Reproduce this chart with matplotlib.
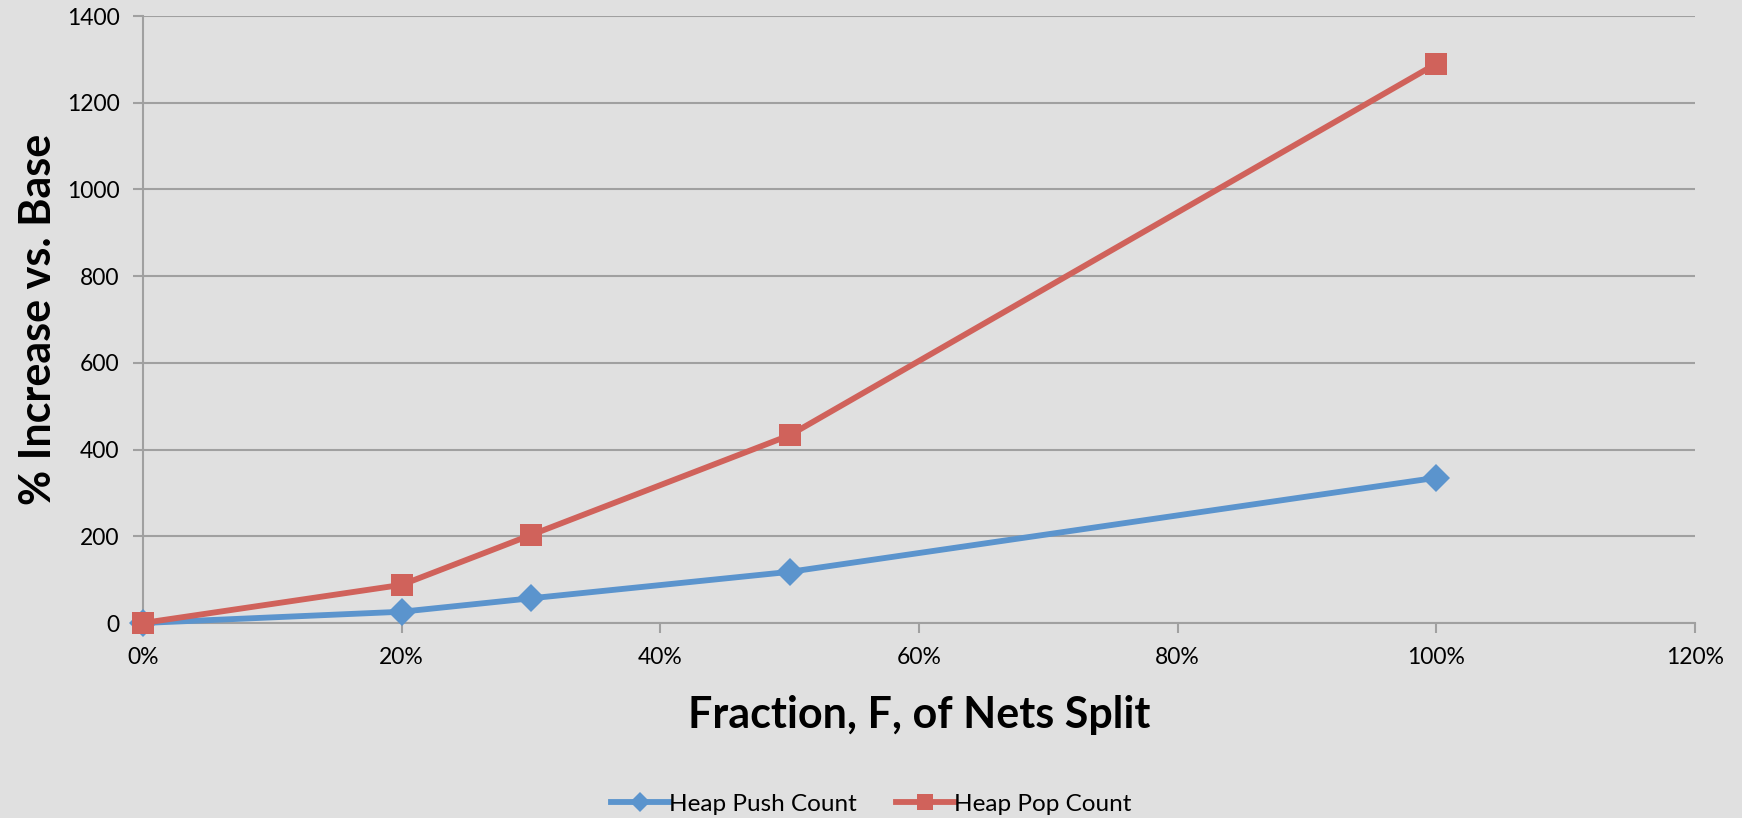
import matplotlib
matplotlib.use("Agg")
import matplotlib.pyplot as plt
from matplotlib.ticker import FuncFormatter, MultipleLocator

# Fraction of nets split and the resulting % increase over the base run
fraction_split = [0.0, 0.2, 0.3, 0.5, 1.0]
heap_push_count = [0, 26, 57, 118, 335]
heap_pop_count = [0, 88, 203, 433, 1290]

series_names = ["Heap Push Count", "Heap Pop Count"]
x_label = "Fraction, F, of Nets Split"
y_label = "% Increase vs. Base"

bg = "#E0E0E0"
grid_c = "#A0A0A0"
blue = "#5B94CD"
red = "#D0625B"

plt.rcParams["font.family"] = ["Lato", "DejaVu Sans"]

fig = plt.figure(figsize=(17.42, 8.18), dpi=100, facecolor=bg)
ax = fig.add_axes([143 / 1742, 1 - 623 / 818, (1695 - 143) / 1742, (623 - 16) / 818])
ax.set_facecolor(bg)

ax.plot(fraction_split, heap_push_count, color=blue, lw=4.2, marker="D",
        markersize=14, markeredgewidth=0, label=series_names[0], zorder=3,
        clip_on=False)
ax.plot(fraction_split, heap_pop_count, color=red, lw=4.2, marker="s",
        markersize=16, markeredgewidth=0, label=series_names[1], zorder=4,
        clip_on=False)

ax.set_xlim(0, 1.2)
ax.set_ylim(0, 1400)
ax.xaxis.set_major_locator(MultipleLocator(0.2))
ax.yaxis.set_major_locator(MultipleLocator(200))
ax.xaxis.set_major_formatter(FuncFormatter(lambda v, p: f"{v * 100:.0f}%"))

ax.grid(axis="y", color=grid_c, lw=1.5)
ax.set_axisbelow(True)
for s in ["top", "right"]:
    ax.spines[s].set_visible(False)
for s in ["left", "bottom"]:
    ax.spines[s].set_color(grid_c)
    ax.spines[s].set_linewidth(1.5)
ax.tick_params(axis="both", colors=grid_c, width=1.5, length=7,
               labelcolor="black", labelsize=16.5)
ax.tick_params(axis="y", pad=10)
ax.tick_params(axis="x", pad=10)

ax.set_xlabel(x_label, fontsize=31, fontweight="bold", labelpad=20)
ax.set_ylabel(y_label, fontsize=31, fontweight="bold", labelpad=6)

leg = fig.legend(loc="center", bbox_to_anchor=(0.5, 1 - 804 / 818), ncol=2,
                 frameon=False, fontsize=17.5, handlelength=2.4,
                 handletextpad=0.0, columnspacing=1.6, markerscale=0.75)

fig.savefig("out.png", dpi=100, facecolor=bg)
